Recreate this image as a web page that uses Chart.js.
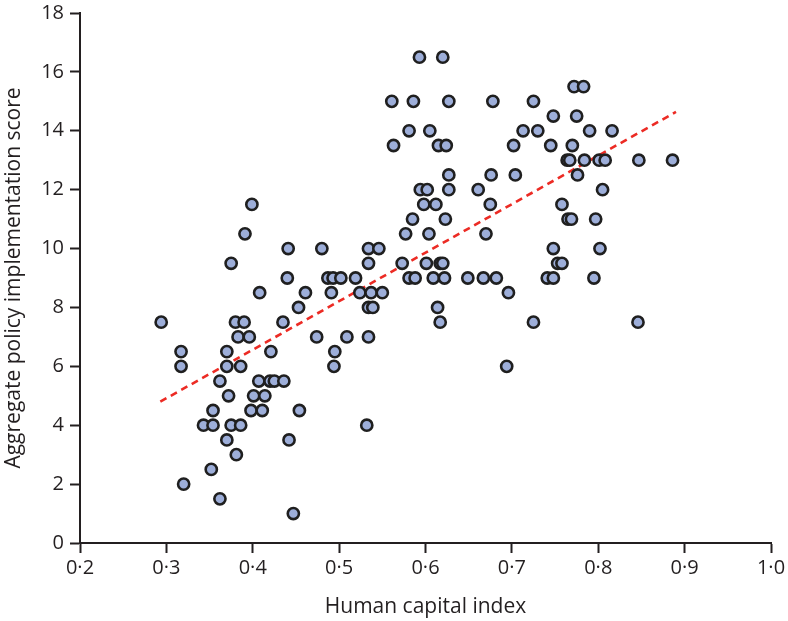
<!DOCTYPE html>
<html><head><meta charset="utf-8">
<script src="https://cdn.jsdelivr.net/npm/chart.js@4/dist/chart.umd.min.js"></script>
<style>html,body{margin:0;padding:0;background:#fff}#wrap{width:788px;height:621px}</style>
</head><body><div id="wrap"><canvas id="c" width="788" height="621"></canvas></div>
<script>
// Human capital index (x) and aggregate policy implementation score (y)
const hci = [
  0.593, 0.620,
  0.772, 0.783,
  0.561, 0.586, 0.627, 0.678, 0.725,
  0.748, 0.775,
  0.581, 0.605, 0.713, 0.730, 0.790, 0.816,
  0.563, 0.615, 0.624, 0.702, 0.745, 0.770,
  0.764, 0.767, 0.784, 0.801, 0.808, 0.847, 0.886,
  0.627, 0.676, 0.704, 0.776,
  0.594, 0.602, 0.627, 0.661, 0.805,
  0.399, 0.598, 0.612, 0.675, 0.758,
  0.585, 0.623, 0.765, 0.769, 0.797,
  0.391, 0.577, 0.604, 0.670,
  0.441, 0.480, 0.534, 0.546, 0.748, 0.802,
  0.375, 0.534, 0.573, 0.601, 0.617, 0.620, 0.753, 0.758,
  0.440, 0.487, 0.493, 0.502, 0.519, 0.581, 0.588, 0.609, 0.622, 0.649, 0.667, 0.682, 0.741, 0.748, 0.795,
  0.408, 0.461, 0.491, 0.524, 0.537, 0.550, 0.696,
  0.453, 0.534, 0.539, 0.614,
  0.294, 0.380, 0.390, 0.435, 0.617, 0.725, 0.846,
  0.383, 0.396, 0.474, 0.509, 0.534,
  0.317, 0.370, 0.421, 0.495,
  0.317, 0.370, 0.386, 0.494, 0.694,
  0.362, 0.407, 0.420, 0.425, 0.436,
  0.372, 0.401, 0.414,
  0.354, 0.398, 0.411, 0.454,
  0.343, 0.354, 0.375, 0.386, 0.532,
  0.370, 0.442,
  0.381,
  0.352,
  0.320,
  0.362,
  0.447
];
const score = [
  16.5, 16.5,
  15.5, 15.5,
  15, 15, 15, 15, 15,
  14.5, 14.5,
  14, 14, 14, 14, 14, 14,
  13.5, 13.5, 13.5, 13.5, 13.5, 13.5,
  13, 13, 13, 13, 13, 13, 13,
  12.5, 12.5, 12.5, 12.5,
  12, 12, 12, 12, 12,
  11.5, 11.5, 11.5, 11.5, 11.5,
  11, 11, 11, 11, 11,
  10.5, 10.5, 10.5, 10.5,
  10, 10, 10, 10, 10, 10,
  9.5, 9.5, 9.5, 9.5, 9.5, 9.5, 9.5, 9.5,
  9, 9, 9, 9, 9, 9, 9, 9, 9, 9, 9, 9, 9, 9, 9,
  8.5, 8.5, 8.5, 8.5, 8.5, 8.5, 8.5,
  8, 8, 8, 8,
  7.5, 7.5, 7.5, 7.5, 7.5, 7.5, 7.5,
  7, 7, 7, 7, 7,
  6.5, 6.5, 6.5, 6.5,
  6, 6, 6, 6, 6,
  5.5, 5.5, 5.5, 5.5, 5.5,
  5, 5, 5,
  4.5, 4.5, 4.5, 4.5,
  4, 4, 4, 4, 4,
  3.5, 3.5,
  3,
  2.5,
  2,
  1.5,
  1
];
// Fitted trend line end points
const trendHci = [0.293, 0.890];
const trendScore = [4.80, 14.64];
// Axis ticks and titles
const xTickValues = [0.2, 0.3, 0.4, 0.5, 0.6, 0.7, 0.8, 0.9, 1.0];
const xTickLabels = ['0·2', '0·3', '0·4', '0·5', '0·6', '0·7', '0·8', '0·9', '1·0'];
const yTickValues = [0, 2, 4, 6, 8, 10, 12, 14, 16, 18];
const xTitle = 'Human capital index';
const yTitle = 'Aggregate policy implementation score';

const FONT = 'Open Sans';
const INK = '#231f20';

const points = hci.map((x, i) => ({ x: x, y: score[i] }));
const trend = trendHci.map((x, i) => ({ x: x, y: trendScore[i] }));

new Chart(document.getElementById('c'), {
  type: 'scatter',
  data: {
    datasets: [
      {
        type: 'line',
        data: trend,
        borderColor: '#ec2b24',
        borderWidth: 2.6,
        borderDash: [7, 5],
        pointRadius: 0,
        fill: false,
        order: 2
      },
      {
        data: points,
        backgroundColor: '#9daed9',
        borderColor: '#1f1f1f',
        borderWidth: 2.6,
        pointRadius: 5.6,
        pointHoverRadius: 5.6,
        order: 1
      }
    ]
  },
  options: {
    responsive: false,
    animation: false,
    devicePixelRatio: 1,
    layout: { padding: { top: 13, right: 17, left: 0, bottom: 0 } },
    plugins: { legend: { display: false }, tooltip: { enabled: false } },
    scales: {
      x: {
        type: 'linear',
        min: 0.2, max: 1.0,
        afterBuildTicks(s) { s.ticks = xTickValues.map(v => ({ value: v })); },
        afterFit(s) { s.height = 78; s.paddingLeft = 0; s.paddingRight = 0; },
        ticks: {
          color: INK,
          font: { family: FONT, size: 20 },
          padding: 3,
          maxRotation: 0,
          callback: (v, i) => xTickLabels[i]
        },
        grid: { drawOnChartArea: false, drawTicks: true, tickLength: 10, tickWidth: 2, tickColor: INK },
        border: { color: INK, width: 2 },
        title: {
          display: true, text: xTitle, color: INK,
          font: { family: FONT, size: 21 }, padding: { top: 4, bottom: 1 }
        }
      },
      y: {
        type: 'linear',
        min: 0, max: 18,
        afterBuildTicks(s) { s.ticks = yTickValues.map(v => ({ value: v })); },
        afterFit(s) { s.width = 80; s.paddingTop = 0; s.paddingBottom = 0; },
        ticks: {
          color: INK,
          font: { family: FONT, size: 20 },
          padding: 6,
          callback: (v) => String(v)
        },
        grid: { drawOnChartArea: false, drawTicks: true, tickLength: 10, tickWidth: 2, tickColor: INK },
        border: { color: INK, width: 2 },
        title: {
          display: true, text: yTitle, color: INK,
          font: { family: FONT, size: 21 }, padding: { top: 1, bottom: 0 }
        }
      }
    }
  }
});
</script>
</body></html>
